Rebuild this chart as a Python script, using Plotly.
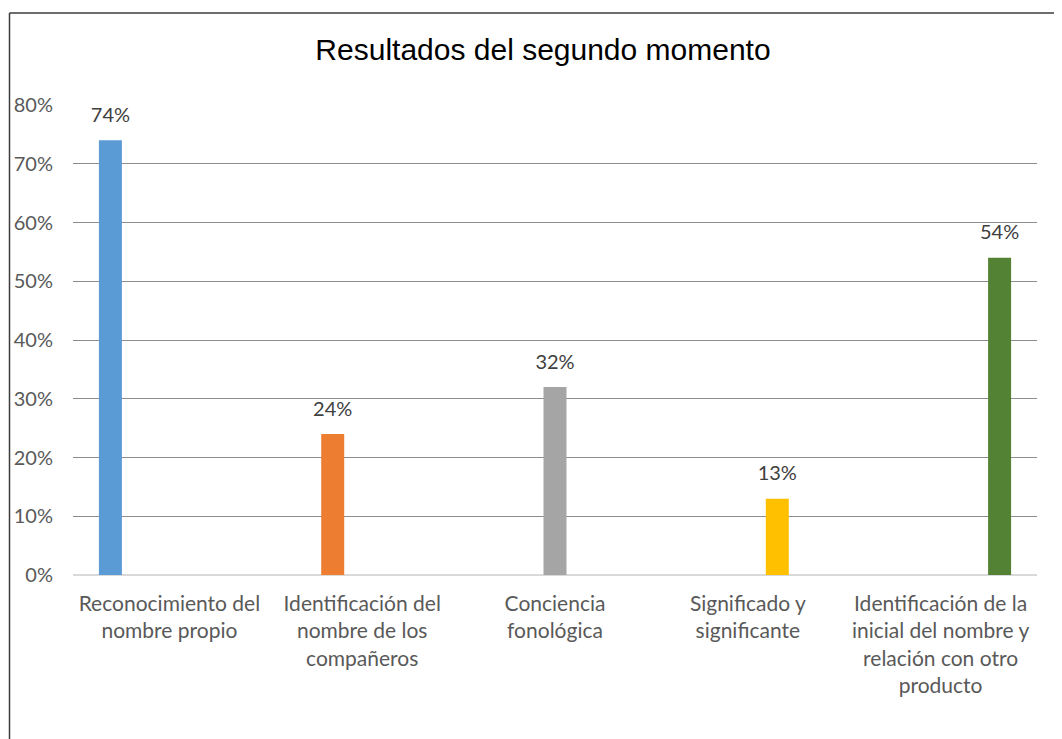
import plotly.graph_objects as go

categories = [
    "Reconocimiento del<br>nombre propio",
    "Identificación del<br>nombre de los<br>compañeros",
    "Conciencia<br>fonológica",
    "Significado y<br>significante",
    "Identificación de la<br>inicial del nombre y<br>relación con otro<br>producto",
]
values = [0.74, 0.24, 0.32, 0.13, 0.54]
labels = ["74%", "24%", "32%", "13%", "54%"]
colors = ["#5B9BD5", "#ED7D31", "#A5A5A5", "#FFC000", "#548235"]
y_ticks = [0, 0.1, 0.2, 0.3, 0.4, 0.5, 0.6, 0.7, 0.8]
y_ticktext = ["0%", "10%", "20%", "30%", "40%", "50%", "60%", "70%", "80%"]

# page body has an 8px margin
OFF = 8
W, H = 1062 - OFF, 739 - OFF
L, R, T, B = 73 - OFF, 25, 105 - OFF, 164
pw, ph = W - L - R, H - T - B
GAP = 0.235

fig = go.Figure()
for i, cat in enumerate(categories):
    yv = [values[i] if j == i else None for j in range(len(categories))]
    fig.add_trace(go.Bar(
        x=categories, y=yv, offsetgroup=str(i), alignmentgroup="g",
        marker=dict(color=colors[i], line=dict(width=0)),
        showlegend=False, hoverinfo="skip",
    ))
for i, cat in enumerate(categories):
    yv = [values[i] if j == i else None for j in range(len(categories))]
    tv = [labels[i] if j == i else "" for j in range(len(categories))]
    fig.add_trace(go.Scatter(
        x=categories, y=yv, text=tv, mode="markers+text",
        orientation="v", offsetgroup=str(i), alignmentgroup="g",
        textposition="top center",
        marker=dict(size=20, color="rgba(0,0,0,0)", line=dict(width=0)),
        textfont=dict(family="Lato", size=20, color="#404040"),
        cliponaxis=False, showlegend=False, hoverinfo="skip",
    ))

def px_x(px):
    return (px - OFF - L) / pw

def px_y(py):
    return (OFF + H - B - py) / ph

fig.update_layout(
    width=W, height=H,
    margin=dict(l=L, r=R, t=T, b=B, autoexpand=False),
    paper_bgcolor="white", plot_bgcolor="white",
    barmode="group", bargap=GAP, bargroupgap=0.22,
    scattermode="group", scattergap=GAP,
    title=dict(text="Resultados del segundo momento",
               font=dict(family="Liberation Sans", size=30, color="#000000"),
               x=(543 - OFF) / W, xref="container", xanchor="center",
               y=1 - (49 - OFF) / H, yref="container", yanchor="middle"),
    font=dict(family="Lato", size=20, color="#595959"),
    xaxis=dict(type="category", showgrid=False, showline=False, zeroline=False,
               ticks="", tickfont=dict(family="Lato", size=21, color="#595959"),
               ticklabelstandoff=14, tickangle=0),
    yaxis=dict(range=[0, 0.8], tickvals=y_ticks, ticktext=y_ticktext,
               showgrid=True, gridcolor="#8C8C8C", gridwidth=1,
               zeroline=True, zerolinecolor="#D9D9D9", zerolinewidth=2,
               showline=False, ticks="",
               tickfont=dict(family="Lato", size=20, color="#595959"),
               ticklabelstandoff=19),
    shapes=[
        dict(type="line", xref="paper", yref="paper",
             x0=px_x(9.5), x1=px_x(1075), y0=px_y(13), y1=px_y(13),
             line=dict(color="#3C3C3C", width=1.5)),
        dict(type="line", xref="paper", yref="paper",
             x0=px_x(9.5), x1=px_x(9.5), y0=px_y(13), y1=px_y(760),
             line=dict(color="#3C3C3C", width=1.5)),
    ],
)

fig.write_html("out.html")
